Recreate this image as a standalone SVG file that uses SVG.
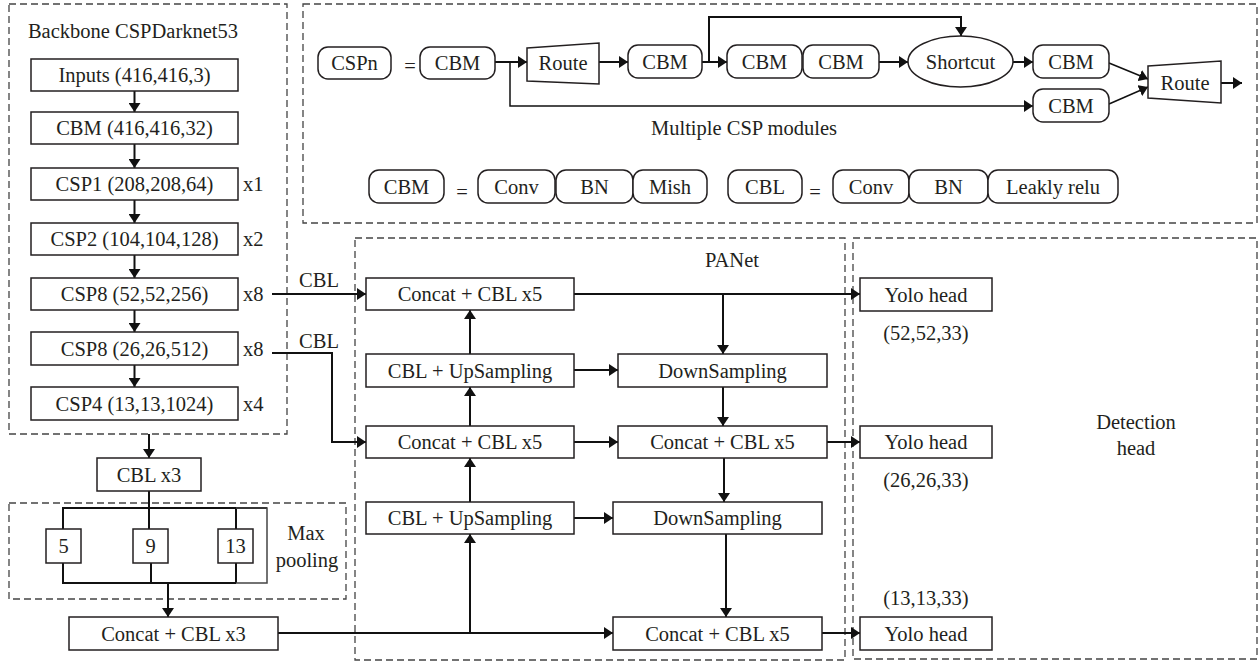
<svg xmlns="http://www.w3.org/2000/svg" width="1260" height="663" viewBox="0 0 1260 663" font-family="'Liberation Serif', 'DejaVu Serif', serif">
<defs>
<marker id="ah" viewBox="0 0 9 12" markerWidth="9" markerHeight="12" refX="9" refY="6" markerUnits="userSpaceOnUse" orient="auto">
<path d="M0,0 L9,6 L0,12 z" fill="#111"/>
</marker>
</defs>
<style>
text{font-family:'Liberation Serif','Times New Roman','DejaVu Serif',serif;font-size:20.5px;fill:#231f20;text-anchor:middle}
.box{fill:#fff;stroke:#231f20;stroke-width:1.5}
.rb{fill:#fff;stroke:#231f20;stroke-width:1.5}
.dash{fill:none;stroke:#444;stroke-width:1.3;stroke-dasharray:7 4}
.c{fill:none;stroke:#111;stroke-width:2}
.ca{fill:none;stroke:#111;stroke-width:2;marker-end:url(#ah)}
.cl{fill:none;stroke:#111;stroke-width:1.5;marker-end:url(#ah)}
.l{text-anchor:start}
</style>
<rect width="1260" height="663" fill="#fff"/>

<g id="frames">
<rect class="dash" x="9" y="4" width="278" height="430"/>
<rect class="dash" x="303" y="4" width="954" height="219"/>
<rect class="dash" x="9" y="503" width="337" height="96"/>
<rect class="dash" x="355" y="238" width="490" height="422"/>
<rect class="dash" x="853" y="238" width="404" height="421"/>
<text x="133" y="38">Backbone CSPDarknet53</text>
<text x="744" y="135">Multiple CSP modules</text>
<text x="306" y="540">Max</text>
<text x="307" y="567">pooling</text>
<text x="732" y="267">PANet</text>
<text x="1136" y="429">Detection</text>
<text x="1136" y="455">head</text>
</g>

<g id="connectors">
<line class="ca" x1="134.5" y1="91" x2="134.5" y2="112"/>
<line class="ca" x1="134.5" y1="144" x2="134.5" y2="168"/>
<line class="ca" x1="134.5" y1="200" x2="134.5" y2="223"/>
<line class="ca" x1="134.5" y1="255" x2="134.5" y2="278"/>
<line class="ca" x1="134.5" y1="310" x2="134.5" y2="332"/>
<line class="ca" x1="134.5" y1="365" x2="134.5" y2="387"/>
<line class="ca" x1="149" y1="434" x2="149" y2="458"/>
<line class="c" x1="149" y1="491" x2="149" y2="508"/>
<polyline class="c" points="63,529 63,508 267,508"/>
<line class="c" x1="149" y1="508" x2="149" y2="529"/>
<line class="c" x1="236" y1="508" x2="236" y2="529"/>
<polyline class="c" points="63,563 63,583 236,583"/>
<line class="c" x1="151" y1="563" x2="151" y2="583"/>
<line class="c" x1="236" y1="563" x2="236" y2="583"/>
<polyline fill="none" stroke="#444" stroke-width="1.5" points="236,508 267,508 267,583 236,583"/>
<line class="ca" x1="168" y1="583" x2="168" y2="617"/>
<line class="ca" x1="272" y1="294" x2="366" y2="294"/>
<polyline class="ca" points="272,353 332,353 332,442 366,442"/>
<line class="ca" x1="278" y1="633" x2="613" y2="633"/>
<line class="ca" x1="470" y1="633" x2="470" y2="534"/>
<line class="ca" x1="574" y1="294" x2="860" y2="294"/>
<line class="ca" x1="723" y1="294" x2="723" y2="354"/>
<line class="ca" x1="470" y1="354" x2="470" y2="310"/>
<line class="ca" x1="574" y1="370" x2="618" y2="370"/>
<line class="ca" x1="723" y1="387" x2="723" y2="426"/>
<line class="ca" x1="470" y1="426" x2="470" y2="387"/>
<line class="ca" x1="574" y1="442" x2="618" y2="442"/>
<line class="ca" x1="827" y1="442" x2="860" y2="442"/>
<line class="ca" x1="724" y1="458" x2="724" y2="502"/>
<line class="ca" x1="470" y1="502" x2="470" y2="458"/>
<line class="ca" x1="574" y1="518" x2="613" y2="518"/>
<line class="ca" x1="726" y1="534" x2="726" y2="617"/>
<line class="ca" x1="822" y1="633" x2="860" y2="633"/>
<line class="ca" x1="495" y1="62" x2="527" y2="62"/>
<polyline class="cl" points="510,62 510,106 1033,106"/>
<line class="ca" x1="599" y1="62" x2="628" y2="62"/>
<line class="ca" x1="702" y1="62" x2="727" y2="62"/>
<polyline class="ca" points="709,62 709,17 961,17 961,36"/>
<line class="ca" x1="879" y1="62" x2="908" y2="62"/>
<line class="ca" x1="1013" y1="62" x2="1033" y2="62"/>
<line class="cl" x1="1109" y1="63" x2="1148" y2="79"/>
<line class="cl" x1="1109" y1="104" x2="1148" y2="87"/>
<line class="ca" x1="1221" y1="83" x2="1242" y2="83"/>
<text x="319" y="287">CBL</text>
<text x="319" y="348">CBL</text>
</g>

<g id="inputs"><rect class="box" x="31" y="59" width="207" height="32"/><text x="134.5" y="82">Inputs (416,416,3)</text></g>
<g id="cbm0"><rect class="box" x="31" y="112" width="207" height="32"/><text x="134.5" y="135">CBM (416,416,32)</text></g>
<g id="csp1"><rect class="box" x="31" y="168" width="207" height="32"/><text x="134.5" y="191">CSP1 (208,208,64)</text><text class="l" x="243" y="191">x1</text></g>
<g id="csp2"><rect class="box" x="31" y="223" width="207" height="32"/><text x="134.5" y="246">CSP2 (104,104,128)</text><text class="l" x="243" y="246">x2</text></g>
<g id="csp8a"><rect class="box" x="31" y="278" width="207" height="32"/><text x="134.5" y="301">CSP8 (52,52,256)</text><text class="l" x="243" y="301">x8</text></g>
<g id="csp8b"><rect class="box" x="31" y="332" width="207" height="33"/><text x="134.5" y="356">CSP8 (26,26,512)</text><text class="l" x="243" y="356">x8</text></g>
<g id="csp4"><rect class="box" x="31" y="387" width="207" height="33"/><text x="134.5" y="411">CSP4 (13,13,1024)</text><text class="l" x="243" y="411">x4</text></g>
<g id="cblx3"><rect class="box" x="97" y="458" width="104" height="33"/><text x="149" y="482">CBL x3</text></g>
<g id="mp5"><rect class="box" x="46" y="529" width="35" height="34"/><text x="63.5" y="553">5</text></g>
<g id="mp9"><rect class="box" x="133" y="529" width="35" height="34"/><text x="150.5" y="553">9</text></g>
<g id="mp13"><rect class="box" x="218" y="529" width="35" height="34"/><text x="235.5" y="553">13</text></g>
<g id="concat3"><rect class="box" x="69" y="617" width="209" height="33"/><text x="173.5" y="641">Concat + CBL x3</text></g>

<g id="pan-c1"><rect class="box" x="366" y="278" width="208" height="32"/><text x="470" y="301">Concat + CBL x5</text></g>
<g id="pan-up1"><rect class="box" x="366" y="354" width="208" height="33"/><text x="470" y="378">CBL + UpSampling</text></g>
<g id="pan-down1"><rect class="box" x="618" y="354" width="209" height="33"/><text x="722.5" y="378">DownSampling</text></g>
<g id="pan-c2"><rect class="box" x="366" y="426" width="208" height="32"/><text x="470" y="449">Concat + CBL x5</text></g>
<g id="pan-c3"><rect class="box" x="618" y="426" width="209" height="32"/><text x="722.5" y="449">Concat + CBL x5</text></g>
<g id="pan-up2"><rect class="box" x="366" y="502" width="208" height="32"/><text x="470" y="525">CBL + UpSampling</text></g>
<g id="pan-down2"><rect class="box" x="613" y="502" width="209" height="32"/><text x="717.5" y="525">DownSampling</text></g>
<g id="pan-c4"><rect class="box" x="613" y="617" width="209" height="33"/><text x="717.5" y="641">Concat + CBL x5</text></g>

<g id="yolo1"><rect class="box" x="860" y="278" width="132" height="33"/><text x="926" y="302">Yolo head</text><text x="926" y="340">(52,52,33)</text></g>
<g id="yolo2"><rect class="box" x="860" y="426" width="132" height="32"/><text x="926" y="449">Yolo head</text><text x="926" y="487">(26,26,33)</text></g>
<g id="yolo3"><rect class="box" x="860" y="617" width="132" height="33"/><text x="926" y="605">(13,13,33)</text><text x="926" y="641">Yolo head</text></g>

<g id="cspn"><rect class="rb" x="318" y="47" width="73" height="32" rx="10"/><text x="354.5" y="70">CSPn</text><text x="410" y="73">=</text></g>
<g id="csp-cbm1"><rect class="rb" x="420" y="47" width="75" height="32" rx="10"/><text x="457.5" y="70">CBM</text></g>
<g id="route1"><polygon class="box" points="527,48 599,43 599,84 527,81"/><text x="563" y="70">Route</text></g>
<g id="csp-cbm2"><rect class="rb" x="628" y="45" width="74" height="33" rx="10"/><text x="665" y="69">CBM</text></g>
<g id="csp-cbm3"><rect class="rb" x="727" y="45" width="75" height="33" rx="10"/><text x="764.5" y="69">CBM</text></g>
<g id="csp-cbm4"><rect class="rb" x="803" y="45" width="76" height="33" rx="10"/><text x="841" y="69">CBM</text></g>
<g id="shortcut"><ellipse class="box" cx="960.5" cy="61.5" rx="52.5" ry="25.5"/><text x="960.5" y="69">Shortcut</text></g>
<g id="csp-cbm5"><rect class="rb" x="1033" y="45" width="76" height="33" rx="10"/><text x="1071" y="69">CBM</text></g>
<g id="csp-cbm6"><rect class="rb" x="1033" y="89" width="76" height="33" rx="10"/><text x="1071" y="113">CBM</text></g>
<g id="route2"><polygon class="box" points="1148,66 1221,61 1221,103 1148,98"/><text x="1185" y="90">Route</text></g>

<g id="cbm-def"><rect class="rb" x="369" y="170" width="75" height="33" rx="10"/><text x="406.5" y="194">CBM</text><text x="462" y="199">=</text></g>
<g id="cbm-conv"><rect class="rb" x="478" y="170" width="77" height="33" rx="10"/><text x="516.5" y="194">Conv</text></g>
<g id="cbm-bn"><rect class="rb" x="556" y="170" width="77" height="33" rx="10"/><text x="594.5" y="194">BN</text></g>
<g id="cbm-mish"><rect class="rb" x="633" y="170" width="74" height="33" rx="10"/><text x="670" y="194">Mish</text></g>
<g id="cbl-def"><rect class="rb" x="728" y="170" width="74" height="33" rx="10"/><text x="765" y="194">CBL</text><text x="815" y="199">=</text></g>
<g id="cbl-conv"><rect class="rb" x="833" y="170" width="76" height="33" rx="10"/><text x="871" y="194">Conv</text></g>
<g id="cbl-bn"><rect class="rb" x="909" y="170" width="79" height="33" rx="10"/><text x="948.5" y="194">BN</text></g>
<g id="cbl-leaky"><rect class="rb" x="988" y="170" width="130" height="33" rx="10"/><text x="1053" y="194">Leakly relu</text></g>
</svg>
